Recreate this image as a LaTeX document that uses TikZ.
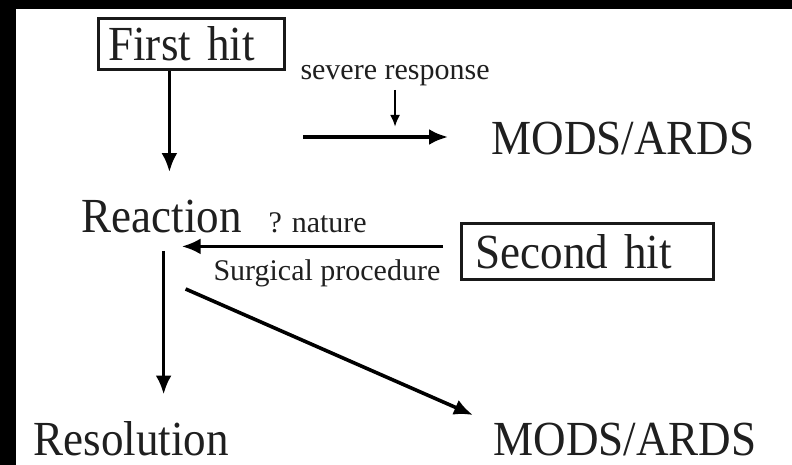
\documentclass[tikz,border=0pt]{standalone}
\usepackage{fontspec}
\setmainfont{Liberation Serif}
\newfontfamily\narrowserif[FakeStretch=0.92]{Liberation Serif}
\usetikzlibrary{arrows.meta}
\tikzset{
  big/.style={font=\narrowserif\fontsize{49}{54}\selectfont, text=black!88, inner sep=3.3pt},
  small/.style={font=\fontsize{30}{34}\selectfont, text=black!88, inner sep=3.3pt},
  hitbox/.style={big, draw=black!90, line width=2.8pt, align=left, anchor=north west},
  arr/.style={line width=3.6pt, -{Latex[length=19pt,width=16pt]}},
  thin arr/.style={line width=2.4pt, -{Latex[length=12pt,width=10pt]}}
}
\begin{document}
\begin{tikzpicture}[x=1pt,y=-1pt]
\fill[black] (0,0) rectangle (792,465);
\fill[white] (16,9) rectangle (792,465);
\useasboundingbox (0,0) rectangle (792,465);
% boxes
\node[hitbox, inner xsep=10pt, text width=166pt, minimum height=51pt] (first) at (97,17) {First hit};
\node[hitbox, inner xsep=14pt, text width=224pt, minimum height=56pt] (second) at (460,222) {Second hit};
% plain labels
\node[big, anchor=base west] (reaction) at (78,233) {Reaction};
\node[big, anchor=base west] (mods1) at (488,155) {MODS/ARDS};
\node[big, anchor=base west] (resolution) at (30,455) {Resolution};
\node[big, anchor=base west] (mods2) at (490,455) {MODS/ARDS};
\node[small, anchor=base west] (severe) at (297,80) {severe response};
\node[small, anchor=base west] (nature) at (265,232) {? nature};
\node[small, anchor=base west] (surgical) at (210,280) {Surgical procedure};
\coordinate (split) at (303,137);
% arrows
\draw[arr, shorten >=25pt] ([xshift=-22pt]first.south) -- ([xshift=-22pt]first.south |- reaction.north);
\draw[arr, shorten >=40pt] (split) -- (split -| mods1.west);
\draw[thin arr, shorten >=10pt] (severe.south) -- (severe.south |- split);
\draw[arr, shorten <=17pt, shorten >=20pt] ([yshift=5pt]second.west) -- ([yshift=5pt]second.west -| reaction.center);
\draw[arr, shorten <=14pt, shorten >=23pt] ([xshift=2pt]reaction.south) -- ([xshift=2pt]reaction.south |- resolution.north);
\draw[arr] ([xshift=24pt,yshift=-52pt]reaction.south) -- ([xshift=-17pt,yshift=4pt]mods2.north west);
\end{tikzpicture}
\end{document}
